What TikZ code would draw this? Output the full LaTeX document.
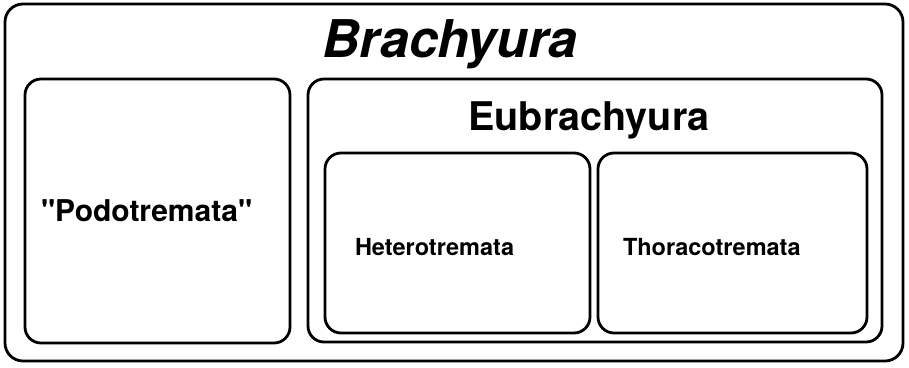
\documentclass[tikz,border=0pt]{standalone}
\usepackage{fontspec}
\setmainfont{TeX Gyre Heros}
\usetikzlibrary{positioning}
\newcommand{\taxon}[2]{{\fontsize{#1}{#1}\selectfont\bfseries #2}}

\begin{document}
\begin{tikzpicture}[
  x=1pt, y=-1pt,
  font=\rmfamily,
  clade/.style={rectangle, draw=black, line width=2.8pt, rounded corners=16pt,
    fill=none, inner sep=0pt, outer sep=0pt},
  cladename/.style={inner sep=0pt, outer sep=0pt, text=black},
]
\useasboundingbox (0,0) rectangle (909,367);

% ---- boxes ----
\node[clade, minimum width=898pt, minimum height=357pt, rounded corners=18pt]
  (brachyura) at (454,182.5) {};
\node[clade, minimum width=265pt, minimum height=264pt] (podo) at (157.5,211) {};
\node[clade, minimum width=574pt, minimum height=263pt] (eubra) at (595,210.5) {};
\node[clade, minimum width=265pt, minimum height=180pt] (hetero) at (457.5,243) {};
\node[clade, minimum width=269pt, minimum height=180pt] (thoraco) at (732.5,243) {};

% ---- names ----
\node[cladename, anchor=base] (brachyuraname) at (450,57)
  {\taxon{52}{\itshape Brachyura}};
\node[cladename, anchor=base] (eubraname) at (589,130) {\taxon{39.5}{Eubrachyura}};
\node[cladename, anchor=base west] (podoname) at (41,221)
  {\taxon{30}{\textquotedbl Podotremata\textquotedbl}};
\node[cladename, anchor=base west] (heteroname) at (355,255) {\taxon{23.5}{Heterotremata}};
\node[cladename, anchor=base west] (thoraconame) at (623,255) {\taxon{23.5}{Thoracotremata}};

\end{tikzpicture}
\end{document}
